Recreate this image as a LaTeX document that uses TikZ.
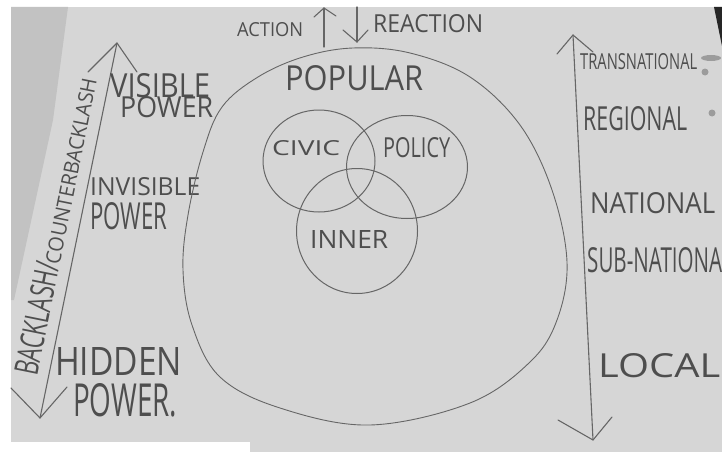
\documentclass[tikz,border=0pt]{standalone}
\usepackage{fontspec}
\usepackage{graphicx}
\setmainfont{Open Sans}
\usetikzlibrary{shapes.geometric}
\definecolor{paper}{HTML}{D6D6D6}
\definecolor{paperdark}{HTML}{C2C2C2}
\definecolor{pencil}{HTML}{4E4E4E}
\definecolor{graphite}{HTML}{666666}
\definecolor{hole}{HTML}{9C9C9C}
% hand lettering: text stretched to a given width and cap height (in pt)
\newcommand{\scribble}[3]{\resizebox{#1pt}{#2pt}{#3}}
\tikzset{
  lettering/.style={inner sep=0pt, anchor=base west, text=pencil},
  stroke/.style={draw=graphite, line width=1.1pt, line cap=round, line join=round},
  ring/.style={ellipse, draw=graphite, line width=1pt, inner sep=0pt},
}
\begin{document}
\begin{tikzpicture}[x=1pt,y=-1pt]
\useasboundingbox (0,0) rectangle (722,452);
% sheet of paper with its surroundings
\fill[white] (0,0) rectangle (722,452);
\fill[paper] (11,7) rectangle (722,452);
\fill[white] (0,442) rectangle (250,452);
\fill[paperdark] (11,7) -- (68,7) -- (53,120) -- (14,300) -- (11,300) -- cycle;
\fill[black!85] (714,7) -- (722,7) -- (722,46) -- cycle;
\fill[hole] (705,72) circle (3.5);
\fill[hole] (712,113) circle (3.5);
\fill[hole] (711,58) ellipse (10 and 3);

% power axis on the left
\coordinate (pl-top) at (117,43);
\coordinate (pl-bot) at (40,418);
\draw[stroke] (pl-bot) -- (pl-top);
\draw[stroke] (88,72) -- (pl-top) -- (137,72);
\draw[stroke] (11,388) -- (pl-bot) -- (67,387);
\node[lettering, rotate=78.6] (backlash) at (37,377)
  {\scribble{114}{24}{BACKLASH/}\scribble{189}{15}{COUNTERBACKLASH}};
\node[lettering] (visible) at (110,97) {\scribble{100}{24}{VISIBLE}};
\node[lettering] (visiblep) at (120,117) {\scribble{93}{21}{POWER}};
\node[lettering] (invisible) at (90,195) {\scribble{110}{18}{INVISIBLE}};
\node[lettering] (invisiblep) at (90,229) {\scribble{77}{27}{POWER}};
\node[lettering] (hidden) at (55,375) {\scribble{127}{28}{HIDDEN}};
\node[lettering] (hiddenp) at (73,416) {\scribble{104}{33}{POWER.}};

% scale axis on the right
\coordinate (sc-top) at (573,35);
\coordinate (sc-bot) at (593,440);
\draw[stroke] (sc-top) -- (sc-bot);
\draw[stroke] (557,54) -- (sc-top) -- (593,52);
\draw[stroke] (558,420) -- (sc-bot) -- (612,417);
\node[lettering] (trans) at (580,70) {\scribble{117}{16}{TRANSNATIONAL}};
\node[lettering] (regional) at (583,130) {\scribble{104}{24}{REGIONAL}};
\node[lettering] (national) at (590,213) {\scribble{125}{21}{NATIONAL}};
\node[lettering] (subnat) at (587,272) {\scribble{135}{25}{SUB-NATIONA}};
\node[lettering] (local) at (598,377) {\scribble{122}{24}{LOCAL}};

% action and reaction
\coordinate (act-a) at (324,47);
\coordinate (act-b) at (324,8);
\draw[stroke] (act-a) -- (act-b);
\draw[stroke] (314,17) -- (act-b) -- (336,16);
\coordinate (rea-a) at (357,7);
\coordinate (rea-b) at (357,42);
\draw[stroke] (rea-a) -- (rea-b);
\draw[stroke] (343,30) -- (rea-b) -- (368,30);
\node[lettering] (action) at (237,37) {\scribble{66}{14}{ACTION}};
\node[lettering] (reaction) at (373,33) {\scribble{110}{18}{REACTION}};

% popular space
\draw[draw=graphite, line width=0.9pt] plot[smooth cycle, tension=0.6] coordinates {
  (353,48) (410,53) (470,77) (520,125) (552,190) (567,262) (557,320)
  (530,362) (470,403) (370,425) (280,408) (220,377) (192,325) (183,270)
  (188,215) (203,152) (222,107) (258,77) (303,57)};
\node[lettering] (popular) at (285,90) {\scribble{138}{25}{POPULAR}};

% overlapping spaces
\node[ring, minimum width=112, minimum height=102] (civic) at (319,161) {};
\node[ring, minimum width=121, minimum height=103] (policy) at (407,167) {};
\node[ring, minimum width=121, minimum height=125] (inner) at (357,231) {};
\node[lettering] (civict) at (272,155) {\scribble{68}{15}{CIVIC}};
\node[lettering] (policyt) at (383,157) {\scribble{67}{20}{POLICY}};
\node[lettering] (innert) at (310,248) {\scribble{78}{18}{INNER}};
\end{tikzpicture}
\end{document}
